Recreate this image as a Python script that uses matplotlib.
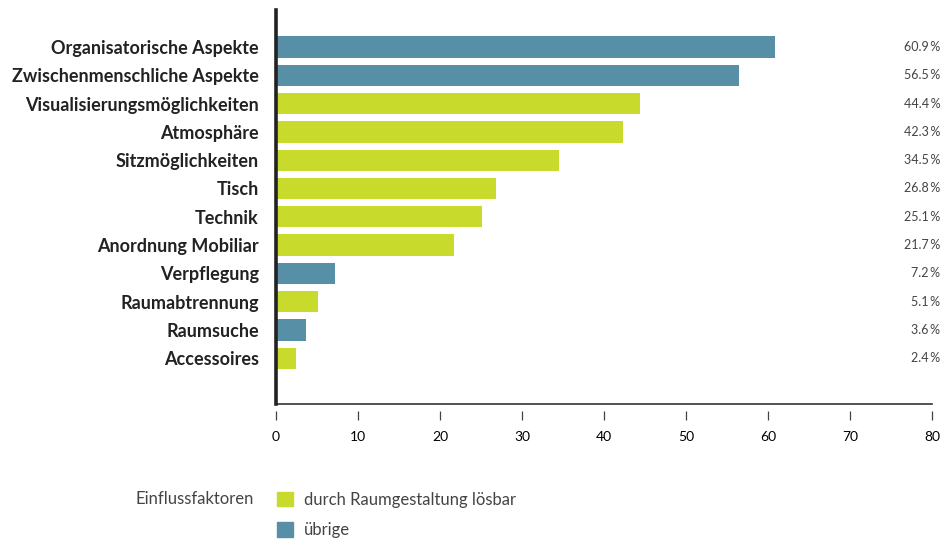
import matplotlib.pyplot as plt
from matplotlib.patches import Patch
from matplotlib.transforms import blended_transform_factory

plt.rcParams['font.family'] = ['Lato', 'DejaVu Sans']

categories = ['Organisatorische Aspekte', 'Zwischenmenschliche Aspekte',
              'Visualisierungsmöglichkeiten', 'Atmosphäre', 'Sitzmöglichkeiten',
              'Tisch', 'Technik', 'Anordnung Mobiliar', 'Verpflegung',
              'Raumabtrennung', 'Raumsuche', 'Accessoires']
values = [60.9, 56.5, 44.4, 42.3, 34.5, 26.8, 25.1, 21.7, 7.2, 5.1, 3.6, 2.4]
# True = durch Raumgestaltung lösbar, False = übrige
solvable = [False, False, True, True, True, True, True, True, False, True, False, True]
x_ticks = [0, 10, 20, 30, 40, 50, 60, 70, 80]

GREEN = '#c8da2c'
BLUE = '#568fa6'
DARK = '#222222'
GREY = '#444444'

fig = plt.figure(figsize=(9.44, 5.42), dpi=100)
ax = fig.add_axes([276 / 944, 1 - 404 / 542, 656 / 944, 394 / 542])

pos = list(range(len(categories)))
colors = [GREEN if s else BLUE for s in solvable]
ax.barh(pos, values, height=0.75, color=colors)

ax.set_xlim(0, 80)
ax.set_ylim(len(categories) + 0.62, -1.31)

ax.set_yticks(pos)
ax.set_yticklabels(categories, fontsize=13, fontweight='bold', color=DARK)
ax.tick_params(axis='y', length=0, pad=12.5)

ax.set_xticks(x_ticks)
ax.set_xticklabels([str(t) for t in x_ticks], fontsize=10, color=GREY)
ax.tick_params(axis='x', length=6.5, width=0.9, color=GREY, pad=8)

for s in ['top', 'right']:
    ax.spines[s].set_visible(False)
ax.spines['left'].set_linewidth(2.6)
ax.spines['left'].set_color(DARK)
# ticks sit a little below the baseline
ax.spines['bottom'].set_position(('outward', 5))
ax.spines['bottom'].set_visible(False)
ax.axhline(ax.get_ylim()[0], color='#333333', lw=1.2, clip_on=False)

trans = blended_transform_factory(ax.transAxes, ax.transData)
for p, v in zip(pos, values):
    ax.text(1.0125, p, f'{v:.1f}\u2009%', transform=trans, ha='right',
            va='center', fontsize=9, color=GREY)

handles = [Patch(color=GREEN, label='durch Raumgestaltung lösbar'),
           Patch(color=BLUE, label='übrige')]
fig.legend(handles=handles, loc='upper left',
           bbox_to_anchor=(262 / 944, 1 - 477 / 542), frameon=False,
           fontsize=12, labelcolor=GREY, handlelength=0.95, handleheight=0.95,
           handletextpad=0.65, labelspacing=0.85)
fig.text(254 / 944, 1 - 499 / 542, 'Einflussfaktoren', ha='right',
         va='center', fontsize=12, color=GREY)

fig.savefig('out.png', dpi=100)
